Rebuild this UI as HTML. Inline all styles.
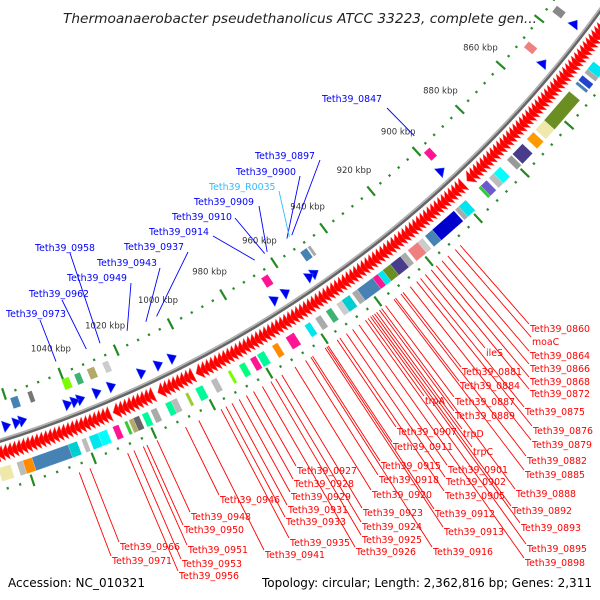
<!DOCTYPE html>
<html><head><meta charset="utf-8"><style>
html,body{margin:0;padding:0;background:#fff;}
svg{display:block;font-family:"DejaVu Sans","Liberation Sans",sans-serif;}
</style></head><body>
<svg id="chart" width="600" height="600" viewBox="0 0 600 600">
<rect width="600" height="600" fill="#fff"/>
<g id="rings"></g>
<g id="labels"></g>
<text x="63" y="23" font-size="13.5" font-style="italic" fill="#222" textLength="474" lengthAdjust="spacingAndGlyphs">Thermoanaerobacter pseudethanolicus ATCC 33223, complete gen...</text>
<text x="8" y="587" font-size="12" fill="#000" textLength="137" lengthAdjust="spacingAndGlyphs">Accession: NC_010321</text>
<text x="262" y="587" font-size="12" fill="#000" textLength="330" lengthAdjust="spacingAndGlyphs">Topology: circular; Length: 2,362,816 bp; Genes: 2,311</text>
</svg>
<script>
// ---- data ----
const tickLabelsKbp = [860,880,900,920,940,960,980,1000,1020,1040];
const fwdRunStart = [822, 896, 1001, 1015, 1030];
const fwdRunEnd   = [893, 999, 1012, 1028, 1072];
const revArrowKbp = [832.7, 849, 897, 949.5, 951.5, 960.7, 965, 1003, 1008, 1014, 1024.7, 1029.8, 1035.5, 1037.5, 1040, 1055.5, 1057.5, 1061];
const innerBlockKbp = [833, 848, 896, 947, 948.5, 964, 1024, 1029, 1034, 1038, 1051, 1056];
const innerBlockLen = [2.5, 2.5, 2.5, 1, 2.5, 2.5, 2, 2.5, 2, 2.5, 1.5, 2.5];
const innerBlockColor = ['#888','#f08080','#ff1493','#aaa','#4682b4','#ff1493','#ccc','#b5a96a','#3cb371','#7cfc00','#777','#4682b4'];
const outerBlockKbp = [829,833,840,843,845.5,848,852,864,869,874,879,884,887,890,892.5,899,902,904,913,917,919,924,926,930,933,935,937,943,946,949,953,957,961,967,973,978,981,985,990,995,1000,1005,1009,1011,1016,1019,1022,1024,1026,1029,1033,1036,1040,1043,1046,1058,1061,1065];
const outerBlockLen = [2,2.5,3,1.5,2,1,12,4,3,4.5,2,3,2,2.5,1,3,1.5,9,3,2,4,2,4,3,2,2,6,2,3,2,2,2,2,3,2,2.5,2,2,1,2,2.5,1,2,2,2,2,2,1.5,1,2,3,3,1.5,3,12,3,2,4];
const outerBlockColor = ['#999','#0a0a80','#00e5ee','#aaa','#2244cc','#4682b4','#6b8e23','#eee8aa','#ff9900','#483d8b','#999','#00ffff','#bbb','#6a5acd','#32cd32','#00e5ee','#aaa','#0000cd','#4682b4','#ccc','#f08080','#aaa','#483d8b','#6b8e23','#00e5ee','#ff1493','#4682b4','#aaa','#00ced1','#ccc','#3cb371','#aaa','#00e5ee','#ff1493','#ff8c00','#00fa9a','#ff1493','#00ff7f','#7cfc00','#bbb','#00fa9a','#9acd32','#bbb','#00fa9a','#aaa','#00fa9a','#666','#b5a96a','#32cd32','#ff1493','#00ffff','#00e5ee','#bbb','#00ced1','#4682b4','#ff8c00','#bbb','#eee8aa'];
const redNames = ['Teth39_0860','moaC','Teth39_0864','Teth39_0866','Teth39_0868','Teth39_0872','Teth39_0875','Teth39_0876','Teth39_0879','Teth39_0882','Teth39_0885','Teth39_0888','Teth39_0892','Teth39_0893','Teth39_0895','Teth39_0898','ileS','Teth39_0881','Teth39_0884','Teth39_0887','trpA','Teth39_0889','Teth39_0907','trpD','Teth39_0911','trpC','Teth39_0915','Teth39_0901','Teth39_0918','Teth39_0902','Teth39_0920','Teth39_0905','Teth39_0923','Teth39_0912','Teth39_0924','Teth39_0913','Teth39_0925','Teth39_0926','Teth39_0916','Teth39_0927','Teth39_0928','Teth39_0929','Teth39_0931','Teth39_0933','Teth39_0935','Teth39_0941','Teth39_0946','Teth39_0948','Teth39_0950','Teth39_0951','Teth39_0953','Teth39_0956','Teth39_0966','Teth39_0971'];
const redKbp = [909.6,911.6,914.6,916.9,919.2,921.2,925.4,926.9,929.4,933,935.7,940.4,943.9,944.6,946.5,948.9,923.5,932.2,935.1,938.9,945.5,941.2,957,942.3,960.3,943.1,966,951.3,968.5,953.6,972.3,956,977,960.8,979.2,961.4,980.9,983.9,966.6,987,989.5,992,994.5,996.6,998.3,1005.9,1010.4,1020,1023.4,1024.6,1027.7,1029.8,1042.2,1045.7];
const redLabelX = [530,532,530,530,530,530,525,533,532,527,525,516,512,521,527,525,486,462,460,455,425,455,397,463,393,473,381,448,379,446,372,445,363,435,362,444,362,356,433,297,294,291,288,286,290,265,220,191,184,188,182,179,120,112];
const redLabelY = [332,345,359,372,385,397,415,434,448,464,478,497,514,531,552,566,356,375,389,405,404,419,435,437,450,455,469,473,483,485,498,499,516,517,530,535,543,555,555,474,487,500,513,525,546,558,503,520,533,553,567,579,550,564];
const blueNames = ['Teth39_0847','Teth39_0897','Teth39_0900','Teth39_R0035','Teth39_0909','Teth39_0910','Teth39_0914','Teth39_0937','Teth39_0943','Teth39_0958','Teth39_0949','Teth39_0962','Teth39_0973'];
const blueKbp = [897,950,952,951,960,961,965,1003,1007,1024,1014,1029,1040];
const blueLabelX = [322,255,236,209,194,172,149,124,97,35,67,29,6];
const blueLabelY = [102,159,175,190,205,220,235,250,266,251,281,297,317];
const blueLineX = [387,320,300,279,259,235,213,188,160,70,131,62,40];
const blueLineY = [108,160,176,191,206,218,236,252,268,253,283,300,320];
const blueColor = ['#0000ff','#0000ff','#0000ff','#33bbff','#0000ff','#0000ff','#0000ff','#0000ff','#0000ff','#0000ff','#0000ff','#0000ff','#0000ff'];

// ---- geometry ----
const NS='http://www.w3.org/2000/svg';
const CX=-351, CY=-682, DEG_PER_KBP=0.1524;
function ang(k){return (56.5+(k-960)*DEG_PER_KBP)*Math.PI/180;}
function pt(k,r){const a=ang(k);return [CX+r*Math.cos(a),CY+r*Math.sin(a)];}
function poly(pts){return pts.map(p=>p[0].toFixed(2)+','+p[1].toFixed(2)).join(' ');}
function mk(tag,attrs,parent){const e=document.createElementNS(NS,tag);for(const k in attrs)e.setAttribute(k,attrs[k]);parent.appendChild(e);return e;}
const rings=document.getElementById('rings');
const labels=document.getElementById('labels');
const K0=820,K1=1075;

// tick rings (inner & outer)
[1133,1224].forEach(function(R,ri){
  for(let k=824;k<=K1;k+=4){
    let el;
    if(k%20===0){
      const a=pt(k,R-6),b=pt(k,R+6);
      el=mk('line',{x1:a[0],y1:a[1],x2:b[0],y2:b[1],stroke:'#228b22','stroke-width':2.2},rings);
      
    } else {
      const a=pt(k,R-1.2),b=pt(k,R+1.2);
      el=mk('line',{x1:a[0],y1:a[1],x2:b[0],y2:b[1],stroke:'#2e8b2e','stroke-width':2.2},rings);
      
    }
    
  }
});
// kbp labels
tickLabelsKbp.forEach(function(k){
  const p=pt(k,1106);
  const t=mk('text',{x:p[0],y:p[1]+3,'text-anchor':'middle','font-size':8.5,fill:'#333'},rings);
  t.textContent=k+' kbp';
  
  
});
// backbone
const bb1=mk('circle',{cx:CX,cy:CY,r:1177.2,fill:'none',stroke:'#666','stroke-width':2.6},rings);


const bb2=mk('circle',{cx:CX,cy:CY,r:1175,fill:'none',stroke:'#b0b0b0','stroke-width':1.6},rings);


// forward genes (red arrows)
for(let i=0;i<fwdRunStart.length;i++){
  for(let k=fwdRunStart[i];k<fwdRunEnd[i];k+=1.5){
    const e=mk('polygon',{points:poly([pt(k,1181),pt(k,1197),pt(k+2.1,1189)]),fill:'#ff0000',stroke:'#ff5050','stroke-width':0.4},rings);
    
    
  }
}
// reverse genes (blue arrows)
revArrowKbp.forEach(function(k){
  const e=mk('polygon',{points:poly([pt(k+2.6,1158),pt(k+2.6,1170),pt(k,1164)]),fill:'#0000ee',stroke:'#3b6cff','stroke-width':0.5},rings);
  
  
});
// inner blocks
innerBlockKbp.forEach(function(k,i){
  const L=innerBlockLen[i];
  const e=mk('polygon',{points:poly([pt(k,1139),pt(k,1150),pt(k+L,1150),pt(k+L,1139)]),fill:innerBlockColor[i]},rings);
  
  
});
// outer blocks
outerBlockKbp.forEach(function(k,i){
  const L=outerBlockLen[i];
  const e=mk('polygon',{points:poly([pt(k,1202),pt(k,1216),pt(k+L,1216),pt(k+L,1202)]),fill:outerBlockColor[i],stroke:'rgba(255,255,255,0.35)','stroke-width':0.5},rings);
  
  
});
// red labels
redNames.forEach(function(n,i){
  const a=pt(redKbp[i],1232);
  const ln=mk('line',{x1:a[0],y1:a[1],x2:redLabelX[i]-1,y2:redLabelY[i]-8,stroke:'#ff0000','stroke-width':0.9},labels);
  
  
  const t=mk('text',{x:redLabelX[i],y:redLabelY[i],'font-size':9.4,fill:'#ff0000'},labels);
  t.textContent=n;
  
  
});
// blue labels
blueNames.forEach(function(n,i){
  const a=pt(blueKbp[i],1120);
  const ln=mk('line',{x1:blueLineX[i],y1:blueLineY[i],x2:a[0],y2:a[1],stroke:blueColor[i],'stroke-width':0.9},labels);
  
  
  const t=mk('text',{x:blueLabelX[i],y:blueLabelY[i],'font-size':9.4,fill:blueColor[i]},labels);
  t.textContent=n;
  
  
});
</script>
</body></html>
